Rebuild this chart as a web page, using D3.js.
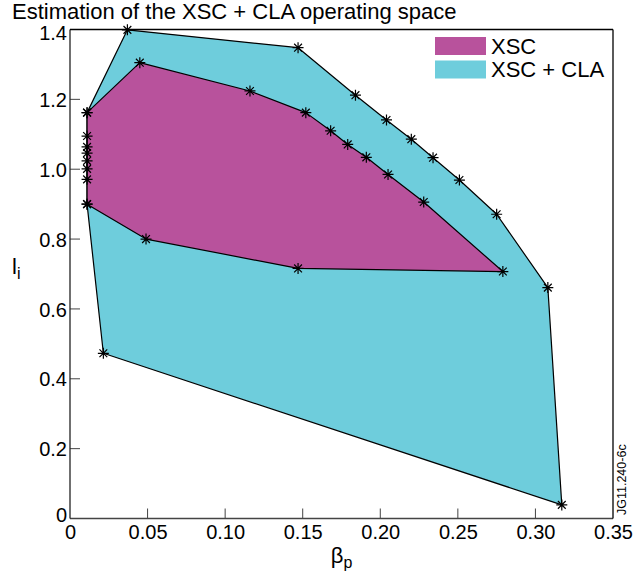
<!DOCTYPE html>
<html>
<head>
<meta charset="utf-8">
<script src="https://cdn.jsdelivr.net/npm/d3@7"></script>
<style>
  body { margin: 0; background: #fff; }
  svg { display: block; font-family: "Liberation Sans", Arial, sans-serif; }
</style>
</head>
<body>
<svg id="chart"></svg>
<script>
"use strict";

// =================== DATA ===================
// XSC + CLA operating space (outer polygon), beta_p / l_i
const claBeta = [0.011, 0.037, 0.147, 0.184, 0.204, 0.220, 0.234, 0.251, 0.275, 0.308, 0.317, 0.0215, 0.011];
const claLi   = [1.162, 1.399, 1.348, 1.212, 1.141, 1.086, 1.033, 0.969, 0.871, 0.661, 0.039, 0.473, 0.900];

// XSC operating space (inner polygon)
const xscBeta = [0.011, 0.045, 0.116, 0.152, 0.168, 0.179, 0.191, 0.205, 0.228, 0.279, 0.147, 0.049,
                 0.011, 0.011, 0.011, 0.011, 0.011, 0.011, 0.011];
const xscLi   = [1.162, 1.305, 1.224, 1.162, 1.110, 1.071, 1.034, 0.985, 0.906, 0.707, 0.716, 0.800,
                 0.900, 0.971, 1.001, 1.024, 1.046, 1.064, 1.095];

const xTicks = [0, 0.05, 0.10, 0.15, 0.20, 0.25, 0.30, 0.35];
const xTickLabels = ["0", "0.05", "0.10", "0.15", "0.20", "0.25", "0.30", "0.35"];
const yTicks = [0, 0.2, 0.4, 0.6, 0.8, 1.0, 1.2, 1.4];
const yTickLabels = ["0", "0.2", "0.4", "0.6", "0.8", "1.0", "1.2", "1.4"];

const legendNames = ["XSC", "XSC + CLA"];

// =================== SETUP ===================
const W = 635, H = 573;
const plot = { left: 70, right: 613, top: 29.5, bottom: 518.5 };
const cyan = "#6ecddc";
const magenta = "#b8529c";

const svg = d3.select("#chart").attr("width", W).attr("height", H);

const x = d3.scaleLinear().domain([0, 0.35]).range([plot.left, plot.right]);
const y = d3.scaleLinear().domain([0, 1.4]).range([plot.bottom, plot.top]);

const claPts = claBeta.map((b, i) => [b, claLi[i]]);
const xscPts = xscBeta.map((b, i) => [b, xscLi[i]]);

const line = d3.line().x(d => x(d[0])).y(d => y(d[1]));

// =================== POLYGONS ===================
svg.append("path")
  .attr("d", line(claPts) + "Z")
  .attr("fill", cyan)
  .attr("stroke", "#000")
  .attr("stroke-width", 1.2)
  .attr("stroke-linejoin", "round");

svg.append("path")
  .attr("d", line(xscPts) + "Z")
  .attr("fill", magenta)
  .attr("stroke", "#000")
  .attr("stroke-width", 1.2)
  .attr("stroke-linejoin", "round");

// asterisk markers
function star(cx, cy, r) {
  const d = r * 0.7071;
  return `M${cx - r},${cy}L${cx + r},${cy}` +
         `M${cx},${cy - r}L${cx},${cy + r}` +
         `M${cx - d},${cy - d}L${cx + d},${cy + d}` +
         `M${cx - d},${cy + d}L${cx + d},${cy - d}`;
}

svg.append("g")
  .selectAll("path")
  .data(claPts.concat(xscPts))
  .enter()
  .append("path")
  .attr("d", d => star(x(d[0]), y(d[1]), 5.5))
  .attr("stroke", "#000")
  .attr("stroke-width", 1.2)
  .attr("fill", "none");

// =================== AXES ===================
const xAxis = d3.axisBottom(x)
  .tickValues(xTicks)
  .tickSize(0)
  .tickFormat((d, i) => xTickLabels[i]);

const gx = svg.append("g")
  .attr("transform", `translate(0,${plot.bottom})`)
  .call(xAxis);
gx.select(".domain").remove();
gx.selectAll("text")
  .attr("y", 20.5)
  .attr("dy", 0)
  .style("font-size", "20px")
  .style("font-family", "Liberation Sans, Arial, sans-serif")
  .attr("fill", "#000");

const yAxis = d3.axisLeft(y)
  .tickValues(yTicks)
  .tickSize(0)
  .tickFormat((d, i) => yTickLabels[i]);

const gy = svg.append("g")
  .attr("transform", `translate(${plot.left},0)`)
  .call(yAxis);
gy.select(".domain").remove();
gy.selectAll("text")
  .attr("x", -3)
  .attr("dy", "0.36em")
  .style("font-size", "20px")
  .style("font-family", "Liberation Sans, Arial, sans-serif")
  .attr("fill", "#000");
gy.selectAll("text").filter((d, i) => i === 0).attr("dy", "0.15em");
gy.selectAll("text").filter((d, i) => i === yTicks.length - 1).attr("dy", "0.5em");

// inward tick marks
svg.append("g")
  .selectAll("line")
  .data(xTicks.slice(1, -1))
  .enter()
  .append("line")
  .attr("x1", d => x(d)).attr("x2", d => x(d))
  .attr("y1", plot.bottom).attr("y2", plot.bottom - 10)
  .attr("stroke", "#444");

svg.append("g")
  .selectAll("line")
  .data(yTicks.slice(1, -1))
  .enter()
  .append("line")
  .attr("x1", plot.left).attr("x2", plot.left + 10)
  .attr("y1", d => y(d)).attr("y2", d => y(d))
  .attr("stroke", "#444");

// frame
svg.append("line")
  .attr("x1", plot.left).attr("x2", plot.right)
  .attr("y1", plot.bottom).attr("y2", plot.bottom)
  .attr("stroke", "#444").attr("stroke-width", 1.3);
svg.append("line")
  .attr("x1", plot.left).attr("x2", plot.left)
  .attr("y1", plot.top).attr("y2", plot.bottom)
  .attr("stroke", "#222").attr("stroke-width", 1.3);
svg.append("line")
  .attr("x1", plot.left).attr("x2", plot.right)
  .attr("y1", plot.top).attr("y2", plot.top)
  .attr("stroke", "#000").attr("stroke-width", 1.3);
svg.append("line")
  .attr("x1", plot.right).attr("x2", plot.right)
  .attr("y1", plot.top).attr("y2", plot.bottom)
  .attr("stroke", "#000").attr("stroke-width", 1.3);

// =================== LABELS ===================
svg.append("text")
  .attr("x", 12)
  .attr("y", 18.5)
  .style("font-size", "22px")
  .text("Estimation of the XSC + CLA operating space");

const xl = svg.append("text")
  .attr("x", (plot.left + plot.right) / 2)
  .attr("y", 563)
  .attr("text-anchor", "middle")
  .style("font-size", "22px");
xl.append("tspan").text("\u03b2");
xl.append("tspan").attr("dy", 5).style("font-size", "16px").text("p");

const yl = svg.append("text")
  .attr("x", 12)
  .attr("y", 274)
  .style("font-size", "22px");
yl.append("tspan").text("l");
yl.append("tspan").attr("dy", 5).style("font-size", "16px").text("i");

svg.append("text")
  .attr("transform", "translate(626,515) rotate(-90)")
  .style("font-size", "12.5px")
  .text("JG11.240-6c");

// =================== LEGEND ===================
const legendColors = [magenta, cyan];
legendNames.forEach((name, i) => {
  const ly = 37 + i * 23.5;
  svg.append("rect")
    .attr("x", 435).attr("y", ly)
    .attr("width", 51).attr("height", 18)
    .attr("fill", legendColors[i]);
  svg.append("text")
    .attr("x", 491).attr("y", ly + 16.5)
    .style("font-size", "22px")
    .text(name);
});
</script>
</body>
</html>
